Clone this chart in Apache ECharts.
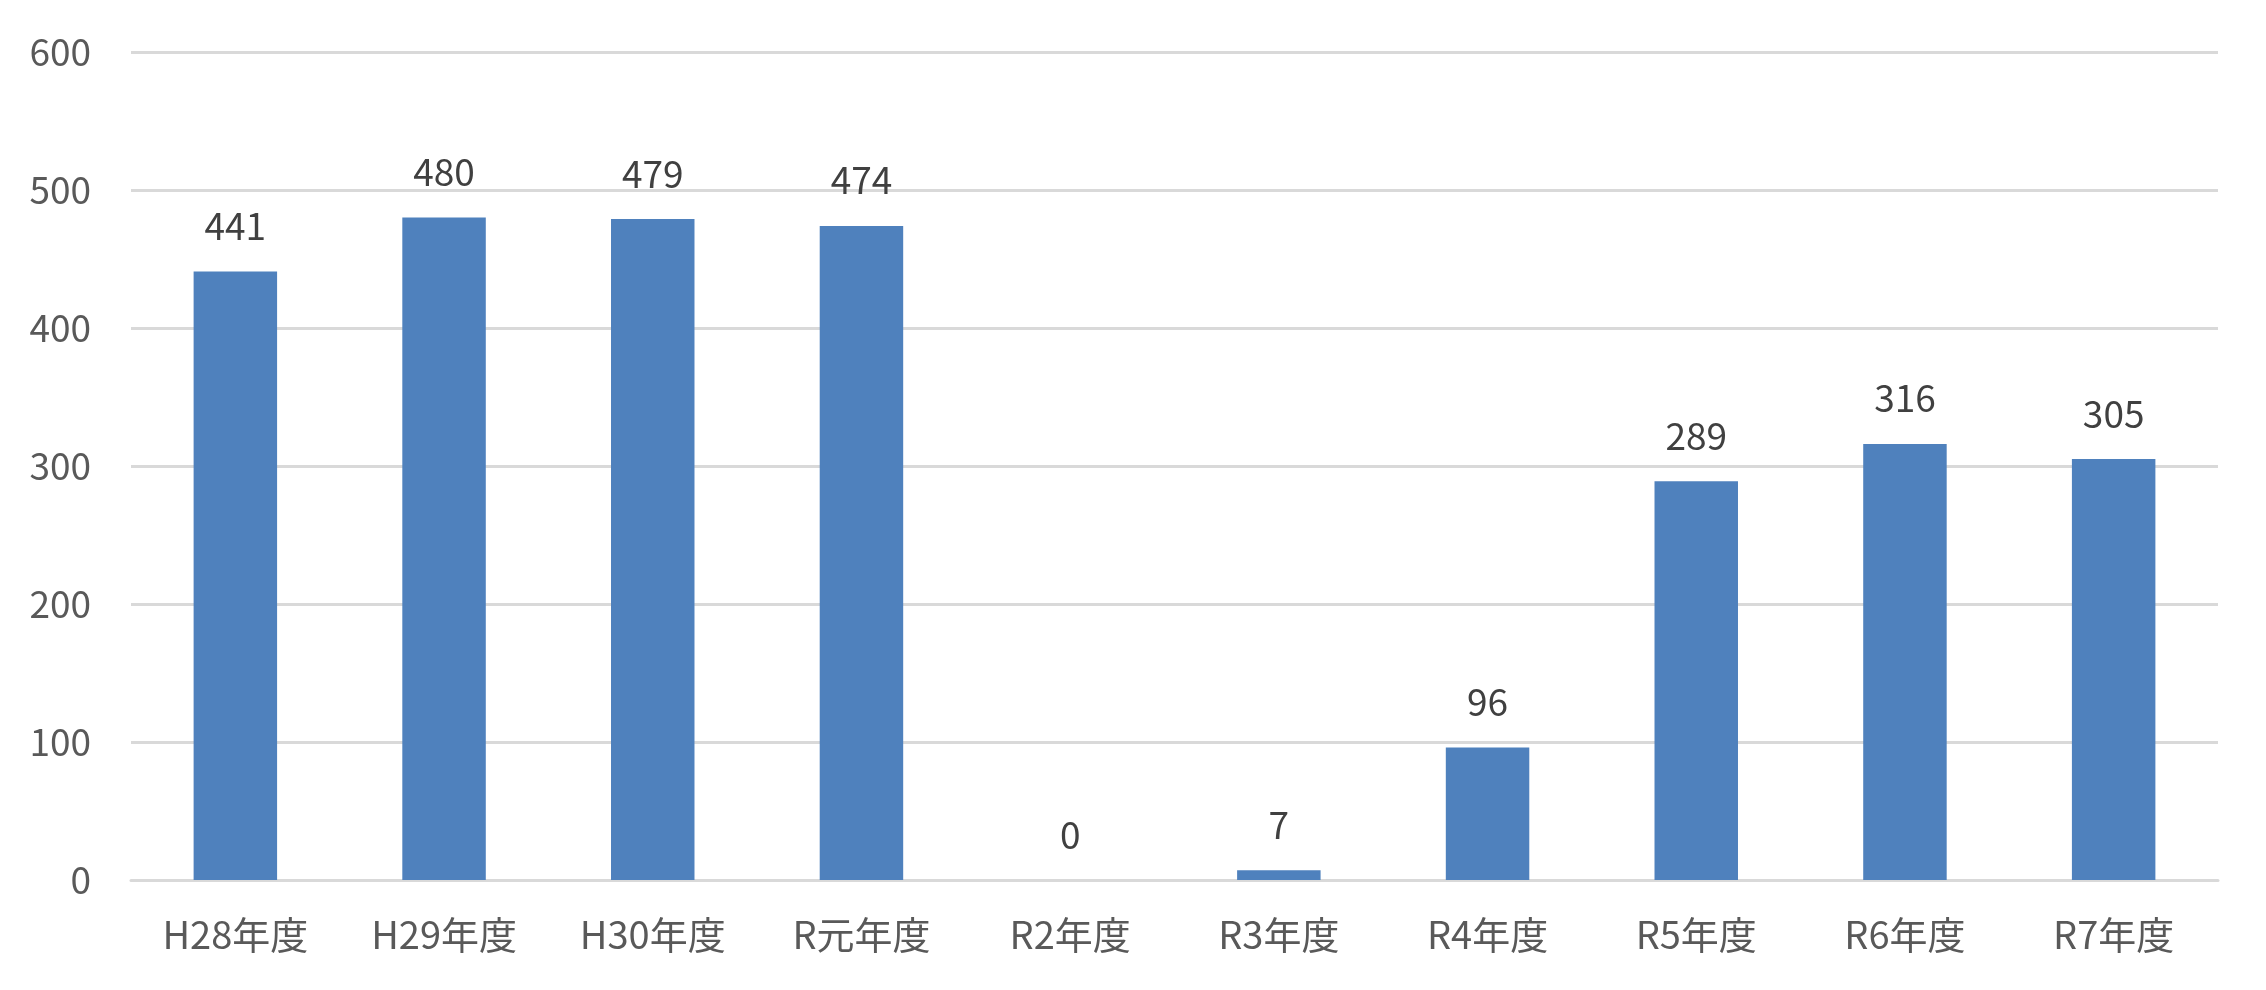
<!DOCTYPE html>
<html lang="ja">
<head>
    <meta charset="UTF-8">
    <title>年度別件数</title>
    <script src="https://cdn.jsdelivr.net/npm/echarts@6/dist/echarts.min.js"></script>
    <style>
        html, body { margin: 0; padding: 0; background: #fff; }
        #chart { width: 2266px; height: 990px; }
    </style>
</head>
<body>
<div id="chart"></div>
<script>
    var years = ['H28年度', 'H29年度', 'H30年度', 'R元年度', 'R2年度', 'R3年度', 'R4年度', 'R5年度', 'R6年度', 'R7年度'];
    var counts = [441, 480, 479, 474, 0, 7, 96, 289, 316, 305];
    var yTicks = [0, 100, 200, 300, 400, 500, 600];

    var font = '"Noto Sans CJK JP", "Noto Sans", sans-serif';
    var chart = echarts.init(document.getElementById('chart'));

    chart.setOption({
        animation: false,
        grid: {
            left: 131,
            right: 48,
            top: 52,
            bottom: 110
        },
        xAxis: {
            type: 'category',
            data: years,
            axisLine: { lineStyle: { color: '#d9d9d9', width: 3 } },
            axisTick: { show: false },
            axisLabel: {
                color: '#595959',
                fontSize: 38,
                fontFamily: font,
                margin: 36
            }
        },
        yAxis: {
            type: 'value',
            min: yTicks[0],
            max: yTicks[yTicks.length - 1],
            interval: 100,
            axisLine: { show: false },
            axisTick: { show: false },
            splitLine: { lineStyle: { color: '#d9d9d9', width: 3 } },
            axisLabel: {
                color: '#595959',
                fontSize: 37,
                fontFamily: font,
                margin: 40
            }
        },
        series: [{
            type: 'bar',
            data: counts,
            barCategoryGap: '60%',
            itemStyle: { color: '#4f81bd' },
            label: {
                show: true,
                position: 'top',
                distance: 27,
                color: '#404040',
                fontSize: 37,
                fontFamily: font
            }
        }]
    });
</script>
</body>
</html>
